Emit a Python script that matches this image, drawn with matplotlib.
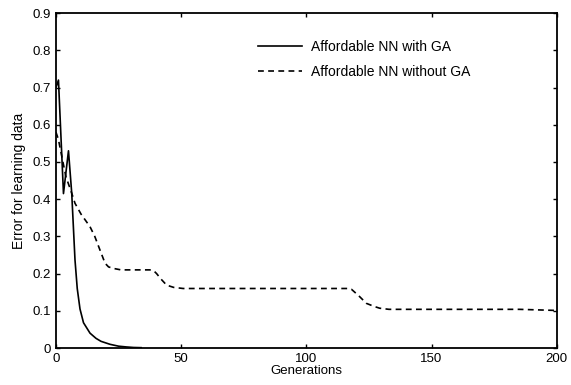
import matplotlib
matplotlib.use('Agg')
import matplotlib.pyplot as plt

plt.rcParams['font.family'] = ['Liberation Sans', 'DejaVu Sans']

# with GA
gen_ga = [0, 1, 3, 5, 6.3, 7.6, 8.5, 9.6, 11, 13.6, 16, 18, 21.6, 25, 28, 31, 34]
err_ga = [0.70, 0.72, 0.415, 0.53, 0.416, 0.237, 0.16, 0.105, 0.068, 0.040, 0.026, 0.018, 0.010, 0.005, 0.003, 0.0015, 0.001]

# without GA
gen_nga = [0, 1, 2.9, 4, 6.3, 7.6, 10, 13.6, 15.5, 17.6, 19.6, 21, 22.9, 26, 30, 37.5, 39,
           40.2, 42, 44.2, 47, 50.8, 60, 80, 100, 117, 118, 121, 124, 127, 129.3, 133, 136,
           150, 170, 185, 195, 200]
err_nga = [0.58, 0.56, 0.496, 0.46, 0.416, 0.389, 0.36, 0.326, 0.30, 0.263, 0.228, 0.218, 0.214, 0.21, 0.21, 0.21, 0.208,
           0.20, 0.185, 0.169, 0.163, 0.160, 0.160, 0.160, 0.160, 0.160, 0.158, 0.14, 0.12, 0.112, 0.107, 0.104, 0.104,
           0.104, 0.104, 0.104, 0.102, 0.101]

fig = plt.figure(figsize=(5.71, 3.85), dpi=100)
ax = fig.add_axes([0.098, 0.096, 0.877, 0.870])

ax.plot(gen_ga, err_ga, 'k-', lw=1.2, label='Affordable NN with GA')
ax.plot(gen_nga, err_nga, 'k--', lw=1.2, dashes=(3.5, 2.6), label='Affordable NN without GA')

ax.set_xlim(0, 200)
ax.set_ylim(0, 0.9)
ax.set_xticks([0, 50, 100, 150, 200])
ax.set_yticks([0, 0.1, 0.2, 0.3, 0.4, 0.5, 0.6, 0.7, 0.8, 0.9])
ax.set_yticklabels(['0', '0.1', '0.2', '0.3', '0.4', '0.5', '0.6', '0.7', '0.8', '0.9'])
ax.tick_params(direction='in', top=True, right=True, length=3, width=1, labelsize=9.5)
for s in ax.spines.values():
    s.set_linewidth(1.3)

ax.set_xlabel('Generations', fontsize=9.5, labelpad=0)
ax.set_ylabel('Error for learning data', fontsize=10, labelpad=5)

ax.legend(loc='upper left', frameon=False, fontsize=10, handlelength=3.2,
          handletextpad=0.65, borderpad=0, borderaxespad=0,
          bbox_to_anchor=(0.403, 0.92), labelspacing=0.8)

fig.savefig('out.png', dpi=100)
